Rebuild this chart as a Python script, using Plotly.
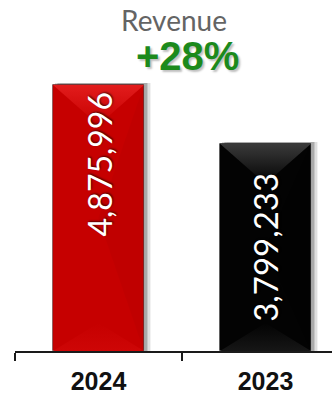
import plotly.graph_objects as go

categories = ["2024", "2023"]
revenue = [4875996, 3799233]
value_labels = ["4,875,996", "3,799,233"]
title_text = "Revenue"
growth_text = "+28%"

base_colors = ["#c60000", "#030303"]
top_colors = ["#e21c1c", "#3a3a3a"]
bottom_colors = ["#ce0606", "#161616"]
side_r_colors = ["#a00000", "#000000"]

W, H = 332, 394
ML, MR, MT, MB = 15, 0, 60, 43
cat_px = 167.0
plot_w = W - ML - MR
plot_h = H - MT - MB
x_range = [-0.5, -0.5 + plot_w / cat_px]
y_max = max(revenue) * plot_h / 266.0
bar_w = 0.545
hw = bar_w / 2
px_x = 1.0 / cat_px
px_y = y_max / plot_h
pos = list(range(len(categories)))

fig = go.Figure()

# soft shadow
for dx, op in [(7, 0.05), (5.5, 0.08), (4, 0.11), (2.5, 0.14)]:
    fig.add_trace(go.Bar(
        x=pos, y=[v + 2 * px_y for v in revenue],
        width=bar_w, offset=-hw + dx * px_x,
        marker=dict(color=f"rgba(0,0,0,{op})", line=dict(width=0)),
        hoverinfo="skip", showlegend=False))

fig.add_trace(go.Bar(
    x=pos, y=revenue, width=bar_w, offset=-hw,
    marker=dict(color=base_colors, line=dict(color="rgba(0,0,0,0.5)", width=0.8)),
    showlegend=False))

d_top = 40
d_bot = 28
for i, v in enumerate(revenue):
    c = pos[i]
    fig.add_trace(go.Scatter(
        x=[c + hw, c + hw, c, c + hw], y=[v, 0, v / 2, v],
        fill="toself", fillcolor=side_r_colors[i], mode="lines", line=dict(width=0),
        hoverinfo="skip", showlegend=False, opacity=0.15))
    fig.add_trace(go.Scatter(
        x=[c - hw, c + hw, c, c - hw], y=[v, v, v - d_top * px_y, v],
        fill="toself", mode="lines", line=dict(width=0),
        fillgradient=dict(type="vertical",
                          colorscale=[[0, base_colors[i]], [1, top_colors[i]]]),
        hoverinfo="skip", showlegend=False))
    fig.add_trace(go.Scatter(
        x=[c - hw, c + hw, c, c - hw], y=[0, 0, d_bot * px_y, 0],
        fill="toself", mode="lines", line=dict(width=0),
        fillgradient=dict(type="vertical",
                          colorscale=[[0, bottom_colors[i]], [1, base_colors[i]]]),
        hoverinfo="skip", showlegend=False))

# invisible trace to carry the category tick axis
fig.add_trace(go.Scatter(x=pos, y=[0, 0], xaxis="x2", mode="markers",
                         marker=dict(opacity=0), hoverinfo="skip", showlegend=False))

vshadow = "1px 1px 2px rgba(0,0,0,0.6)"
fig.add_annotation(x=pos[0], y=revenue[0], yshift=-6, yanchor="top", xanchor="center",
                   text=value_labels[0], textangle=-90, showarrow=False,
                   font=dict(family="Lato", size=32, color="white", shadow=vshadow))
fig.add_annotation(x=pos[1], y=revenue[1] / 2, yanchor="middle", xanchor="center",
                   text=value_labels[1], textangle=-90, showarrow=False,
                   font=dict(family="Lato", size=33, color="white", shadow=vshadow))

fig.add_annotation(xref="paper", yref="paper", x=(174 - ML) / plot_w, y=1 + (MT - 20) / plot_h,
                   text=title_text, showarrow=False, xanchor="center", yanchor="middle",
                   font=dict(family="Lato", size=28, color="#646464"))
fig.add_annotation(xref="paper", yref="paper", x=(187 - ML) / plot_w, y=1 + (MT - 56) / plot_h,
                   text=growth_text, showarrow=False, xanchor="center", yanchor="middle",
                   font=dict(family="Liberation Sans", size=40, color="#1c8a1c", weight="bold",
                             shadow="2px 2px 2px rgba(0,0,0,0.25)"))

fig.update_layout(
    xaxis=dict(range=x_range, tickvals=[-0.5, 0.5], ticktext=["", ""],
               showline=True, linecolor="#1a1a1a", linewidth=2,
               ticks="outside", ticklen=8, tickwidth=2, tickcolor="#1a1a1a",
               showgrid=False, zeroline=False, fixedrange=True),
    xaxis2=dict(overlaying="x", side="bottom", range=x_range, tickvals=pos,
                ticktext=categories, ticks="", showline=False, showgrid=False,
                zeroline=False, matches="x",
                tickfont=dict(family="Liberation Sans", size=25, color="#111111", weight="bold"),
                ticklabelstandoff=13),
    yaxis=dict(range=[0, y_max], visible=False, showgrid=False, zeroline=False),
    barmode="overlay", bargap=0,
    width=W, height=H, margin=dict(l=ML, r=MR, t=MT, b=MB),
    plot_bgcolor="white", paper_bgcolor="white",
)

fig.write_html("out.html")
